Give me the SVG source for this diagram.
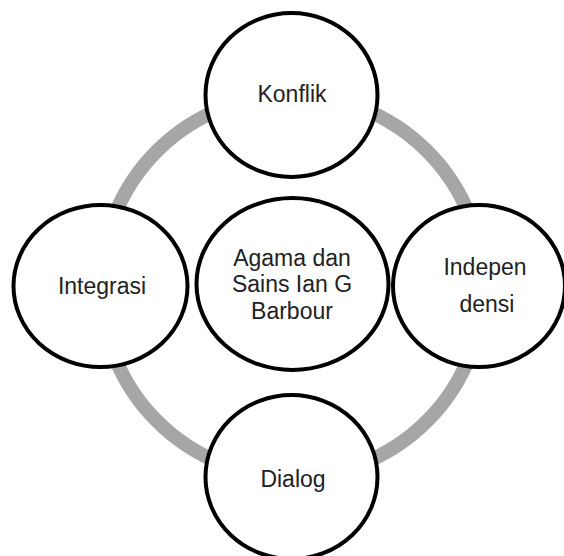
<svg xmlns="http://www.w3.org/2000/svg" width="564" height="556" viewBox="0 0 564 556">
<style>
.node ellipse{fill:#fff;stroke:#000;stroke-width:4}
.node text{font-family:"Liberation Sans",Arial,sans-serif;font-size:23px;fill:#222;text-anchor:middle}
.ring{fill:none;stroke:#a6a6a6;stroke-width:14}
</style>
<rect width="564" height="556" fill="#fff"/>
<g id="connectors">
<ellipse class="ring" cx="292" cy="286" rx="191" ry="191"/>
</g>
<g id="konflik" class="node">
<ellipse cx="291.5" cy="95" rx="86" ry="82"/>
<text x="292" y="102">Konflik</text>
</g>
<g id="integrasi" class="node">
<ellipse cx="100.5" cy="286" rx="87" ry="81"/>
<text x="102" y="294">Integrasi</text>
</g>
<g id="pusat" class="node">
<ellipse cx="292.5" cy="284" rx="96" ry="86"/>
<text x="292" y="266">Agama dan</text>
<text x="292" y="292">Sains Ian G</text>
<text x="292" y="319">Barbour</text>
</g>
<g id="independensi" class="node">
<ellipse cx="479" cy="286" rx="86" ry="81"/>
<text x="485" y="275">Indepen</text>
<text x="487" y="312">densi</text>
</g>
<g id="dialog" class="node">
<ellipse cx="291.5" cy="477" rx="86" ry="82"/>
<text x="293" y="487">Dialog</text>
</g>
</svg>
